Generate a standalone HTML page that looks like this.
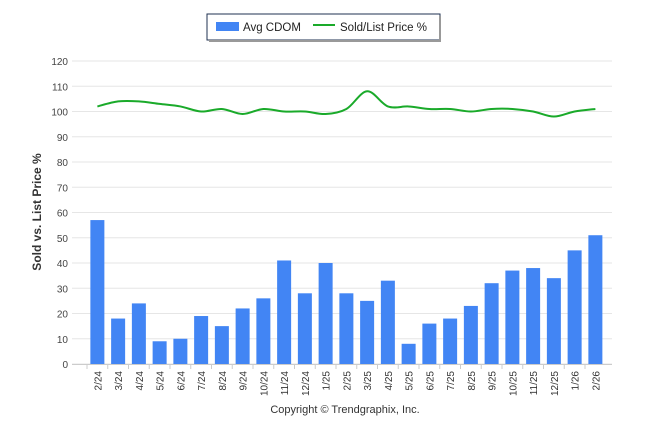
<!DOCTYPE html>
<html><head><meta charset="utf-8"><style>
body{margin:0;background:#fff;font-family:"Liberation Sans",sans-serif}
svg{display:block}
</style></head><body>
<svg id="c" width="646" height="434" xmlns="http://www.w3.org/2000/svg">
<g>
<rect x="207" y="14" width="233" height="26" fill="#fff" stroke="#1f3050" stroke-width="1"/>
<line x1="440" y1="16" x2="440" y2="41" stroke="#999" stroke-width="2"/>
<line x1="209" y1="41" x2="441" y2="41" stroke="#999" stroke-width="2"/>
<rect x="216" y="22" width="23" height="9" fill="#4285f4"/>
<text x="243" y="31" font-size="11.5" fill="#222">Avg CDOM</text>
<line x1="313" y1="25" x2="335" y2="25" stroke="#1aaa2a" stroke-width="2"/>
<text x="340" y="31" font-size="11.5" fill="#222">Sold/List Price %</text>
</g>
<text transform="translate(41,212) rotate(-90)" text-anchor="middle" font-size="12" font-weight="bold" fill="#333">Sold vs. List Price %</text>
<text x="345" y="413" text-anchor="middle" font-size="11" fill="#333">Copyright © Trendgraphix, Inc.</text>
<g id="grid"></g><g id="bars"></g><g id="line"></g><g id="axes"></g>
</svg>
<script>
const categories=["2/24","3/24","4/24","5/24","6/24","7/24","8/24","9/24","10/24","11/24","12/24","1/25","2/25","3/25","4/25","5/25","6/25","7/25","8/25","9/25","10/25","11/25","12/25","1/26","2/26"];
const cdom=[57,18,24,9,10,19,15,22,26,41,28,40,28,25,33,8,16,18,23,32,37,38,34,45,51];
const price=[102,104,104,103,102,100,101,99,101,100,100,99,101,108,102,102,101,101,100,101,101,100,98,100,101];
const yTicks=[0,10,20,30,40,50,60,70,80,90,100,110,120];
const NS="http://www.w3.org/2000/svg";
const x0=87,band=20.75,y0=364,yTop=61;
function y(v){return y0-(v/120)*(y0-yTop);}
function xc(i){return x0+band*(i+0.5);}
function mk(t,a,p){const e=document.createElementNS(NS,t);for(const k in a)e.setAttribute(k,a[k]);p.appendChild(e);return e;}
const g=document.getElementById('grid'),b=document.getElementById('bars'),l=document.getElementById('line'),ax=document.getElementById('axes');
yTicks.forEach(v=>{
const ln=mk('line',{x1:72,x2:612,y1:y(v),y2:y(v),stroke:'#e6e6e6'},g);


const t=mk('text',{x:68,y:y(v)+4,'text-anchor':'end','font-size':'10',fill:'#444'},ax);
t.textContent=v;


});
const axl=mk('line',{x1:72,x2:612,y1:y0+0.5,y2:y0+0.5,stroke:'#ccc'},ax);


categories.forEach((c,i)=>{
const r=mk('rect',{x:xc(i)-7,y:y(cdom[i]),width:14,height:y0-y(cdom[i]),fill:'#4285f4'},b);


const tk=mk('line',{x1:x0+band*i,x2:x0+band*i,y1:y0,y2:y0+5,stroke:'#ccc'},ax);


const t=mk('text',{transform:`translate(${xc(i)+4},${y0+7}) rotate(-90)`,'text-anchor':'end','font-size':'10',fill:'#333'},ax);
t.textContent=c;


});
const pts=price.map((v,i)=>[xc(i),y(v)]);
let d='M'+pts[0][0]+','+pts[0][1];
for(let i=0;i<pts.length-1;i++){
const p0=pts[Math.max(0,i-1)],p1=pts[i],p2=pts[i+1],p3=pts[Math.min(pts.length-1,i+2)];
const c1=[p1[0]+(p2[0]-p0[0])/6,p1[1]+(p2[1]-p0[1])/6],c2=[p2[0]-(p3[0]-p1[0])/6,p2[1]-(p3[1]-p1[1])/6];
d+=` C${c1[0]},${c1[1]} ${c2[0]},${c2[1]} ${p2[0]},${p2[1]}`;
}
const pl=mk('path',{d:d,fill:'none',stroke:'#1aaa2a','stroke-width':2},l);


</script>
</body></html>
